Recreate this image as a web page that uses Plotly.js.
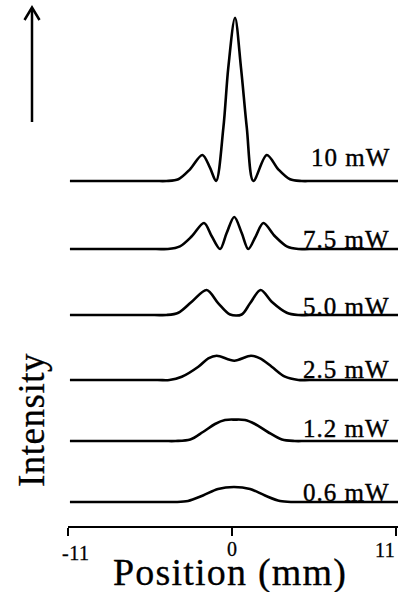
<!DOCTYPE html>
<html>
<head>
<meta charset="utf-8">
<script src="https://cdn.plot.ly/plotly-3.0.1.min.js"></script>
<style>
  html, body { margin: 0; padding: 0; background: #fff; }
  #chart { width: 398px; height: 592px; }
</style>
</head>
<body>
<div id="chart"></div>
<script>
// ---- Data ----
var labels = ['0.6 mW', '1.2 mW', '2.5 mW', '5.0 mW', '7.5 mW', '10 mW'];
// vertical offset (baseline) of each stacked profile, in intensity units
var offsets = [24, 85, 146, 211, 277, 345];

// positions (mm) and intensities (arbitrary units) of each profile
var x06 = [-10.87, -4.5, -3.8, -2.95, -1.95, -0.94, 0.13, 1.21, 2.21, 3.22, 4.1, 4.9, 11.13];
var y06 = [0, 0, 0, 1, 6.5, 13, 15, 13, 6.5, 1, 0, 0, 0];

var x12 = [-10.87, -4.6, -3.8, -2.8, -1.95, -1.14, -0.47, 0.2, 0.87, 1.54, 2.4, 3.35, 4.2, 5.0, 11.13];
var y12 = [0, 0, 0, 1.5, 9, 17, 21, 21.4, 21, 17, 9, 1.5, 0, 0, 0];

var x25 = [-10.87, -5.0, -4.2, -3.37, -2.26, -1.59, -1.03, 0.15, 1.27, 1.88, 2.66, 3.55, 4.45, 5.2, 11.13];
var y25 = [0, 0, 0, 3.3, 13.3, 21.7, 24.3, 19.3, 24.3, 21.7, 13.3, 3.3, 0, 0, 0];

var x50 = [-10.87, -5.2, -4.4, -3.6, -2.70, -1.70, -0.92, -0.13, 0.65, 1.21, 1.92, 2.66, 3.67, 4.45, 5.2, 11.13];
var y50 = [0, 0, 0, 2.3, 13.3, 25, 11.7, 0.5, 0.5, 11.7, 25, 13.3, 2.3, 0, 0, 0];

var x75 = [-10.87, -5.1, -4.3, -3.49, -2.70, -1.88, -1.36, -0.80, -0.36, 0.15, 0.65, 1.09, 1.59, 2.10, 2.88, 3.67, 4.45, 5.2, 11.13];
var y75 = [0, 0, 0, 2.7, 12.7, 26, 12.7, 0, 16, 32, 16, 0, 12.7, 26, 12.7, 2.7, 0, 0, 0];

var x10 = [-10.87, -5.2, -4.4, -3.6, -2.82, -1.99, -1.48, -1.07, -0.58, -0.25, 0.2, 0.6, 0.99, 1.43, 2.33, 3.1, 3.89, 4.67, 5.4, 11.13];
var y10 = [0, 0, 0, 1.7, 11.7, 26, 13.3, 0, 53.3, 113.3, 163.3, 113.3, 53.3, 0, 26, 11.7, 1.7, 0, 0, 0];

var tickVals = [-11, 0, 11];
var tickText = ['-11', '0', '11'];
var xTitle = 'Position (mm)';
var yTitle = 'Intensity';

// ---- Build traces ----
var xs = [x06, x12, x25, x50, x75, x10];
var ys = [y06, y12, y25, y50, y75, y10];
var serif = 'Liberation Serif, Times New Roman, serif';

var traces = xs.map(function (xv, i) {
  return {
    x: xv,
    y: ys[i].map(function (v) { return v + offsets[i]; }),
    type: 'scatter',
    mode: 'lines',
    line: { color: '#000', width: 2.6, shape: 'spline', smoothing: 0.9 },
    hoverinfo: 'skip',
    showlegend: false
  };
});

function styled(t, spacing, stroke) {
  return '<span style="letter-spacing:' + spacing + 'px;stroke:#000;stroke-width:' + stroke + 'px">' + t + '</span>';
}

// label lift above baseline (styling)
var labelLift = [12, 15, 13, 11, 12, 26];
var annotations = labels.map(function (t, i) {
  return {
    x: 10.75, y: offsets[i] + labelLift[i], xref: 'x', yref: 'y',
    text: styled(t, 1.0, 0.4), showarrow: false, xanchor: 'right', yanchor: 'middle', yshift: -2,
    font: { family: serif, size: 25, color: '#000' }
  };
});

// tick labels (placed as annotations to mimic the reference's offsets)
var tickShift = [7, 0, -11];
var tickDrop = [-27, -23, -24];
tickVals.forEach(function (v, i) {
  annotations.push({
    x: v, y: 0, xref: 'x', yref: 'paper', text: styled(tickText[i], 0.5, 0.3), showarrow: false,
    xanchor: 'center', yanchor: 'middle', xshift: tickShift[i], yshift: tickDrop[i],
    font: { family: serif, size: 20, color: '#000' }
  });
});

// axis titles
annotations.push({
  x: 0, y: 0, xref: 'x', yref: 'paper', text: styled(xTitle, 1.2, 0.3), showarrow: false,
  xanchor: 'center', yanchor: 'middle', xshift: -2, yshift: -46,
  font: { family: serif, size: 38, color: '#000' }
});
annotations.push({
  x: 0, y: 0, xref: 'paper', yref: 'paper', text: styled(yTitle, 0.5, 0.3), showarrow: false,
  textangle: -90, xanchor: 'center', yanchor: 'middle', xshift: -37, yshift: 106,
  font: { family: serif, size: 37, color: '#000' }
});

var W = 398, H = 592, L = 68, B = 66;
function px(xp) { return (xp - L) / (W - L); }
function py(yp) { return (H - B - yp) / (H - B); }

var shapes = [
  { type: 'line', xref: 'paper', yref: 'paper', x0: px(32), x1: px(32), y0: py(122), y1: py(8),
    line: { color: '#000', width: 2.5 } },
  { type: 'path', xref: 'paper', yref: 'paper',
    path: 'M ' + px(24.5) + ' ' + py(20) + ' L ' + px(32) + ' ' + py(7.5) + ' L ' + px(39.5) + ' ' + py(20),
    line: { color: '#000', width: 2.5 } }
];

var layout = {
  width: W, height: H,
  margin: { l: L, r: 0, t: 0, b: B, pad: 0 },
  paper_bgcolor: '#fff', plot_bgcolor: '#fff',
  showlegend: false,
  xaxis: {
    range: [-11, 11.13], showgrid: false, zeroline: false,
    showline: true, linecolor: '#000', linewidth: 2,
    ticks: 'outside', ticklen: 8, tickwidth: 2, tickcolor: '#000',
    tickvals: tickVals, showticklabels: false, fixedrange: true
  },
  yaxis: {
    range: [0, H - B], visible: false, showgrid: false, zeroline: false, fixedrange: true
  },
  annotations: annotations,
  shapes: shapes
};

Plotly.newPlot('chart', traces, layout, { displayModeBar: false, staticPlot: true });
</script>
</body>
</html>
